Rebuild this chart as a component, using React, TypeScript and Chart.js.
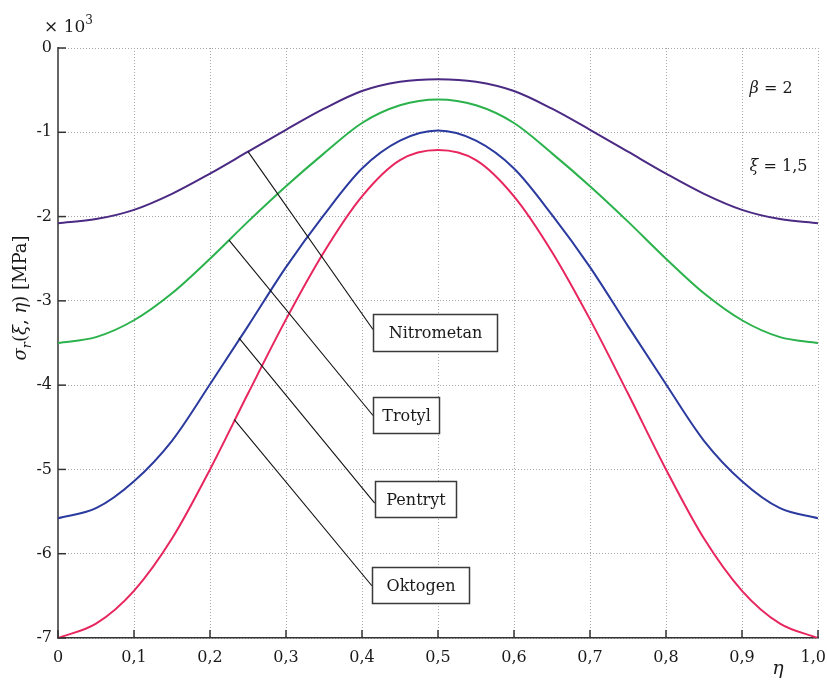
import React, { useEffect, useRef } from "react";
import { Chart, registerables } from "chart.js";

Chart.register(...registerables);

// ---------------- data ----------------
const ETA = [0, 0.05, 0.1, 0.15, 0.2, 0.25, 0.3, 0.35, 0.4, 0.45, 0.5, 0.55, 0.6, 0.65, 0.7, 0.75, 0.8, 0.85, 0.9, 0.95, 1.0];

const NITROMETAN = [-2.08, -2.03, -1.92, -1.73, -1.49, -1.23, -0.97, -0.72, -0.51, -0.40, -0.37, -0.40, -0.51, -0.72, -0.97, -1.23, -1.49, -1.73, -1.92, -2.03, -2.08];
const TROTYL = [-3.50, -3.43, -3.23, -2.91, -2.50, -2.06, -1.64, -1.25, -0.89, -0.68, -0.61, -0.68, -0.89, -1.25, -1.64, -2.06, -2.50, -2.91, -3.23, -3.43, -3.50];
const PENTRYT = [-5.58, -5.46, -5.14, -4.66, -3.99, -3.30, -2.60, -1.98, -1.43, -1.10, -0.98, -1.10, -1.43, -1.98, -2.60, -3.30, -3.99, -4.66, -5.14, -5.46, -5.58];
const OKTOGEN = [-7.00, -6.83, -6.44, -5.82, -5.00, -4.10, -3.22, -2.42, -1.76, -1.33, -1.21, -1.33, -1.76, -2.42, -3.22, -4.10, -5.00, -5.82, -6.44, -6.83, -7.00];

const SERIES_NAMES = ["Nitrometan", "Trotyl", "Pentryt", "Oktogen"];
const SERIES_VALUES = [NITROMETAN, TROTYL, PENTRYT, OKTOGEN];
const SERIES_COLORS = ["#4b2a84", "#2bb24c", "#2b3a9e", "#e8265e"];

const X_TICKS = [0, 0.1, 0.2, 0.3, 0.4, 0.5, 0.6, 0.7, 0.8, 0.9, 1.0];
const X_TICK_LABELS = ["0", "0,1", "0,2", "0,3", "0,4", "0,5", "0,6", "0,7", "0,8", "0,9", "1,0"];
const Y_TICKS = [-7, -6, -5, -4, -3, -2, -1, 0];
const Y_TICK_LABELS = ["-7", "-6", "-5", "-4", "-3", "-2", "-1", "0"];

// label boxes with leader lines (data coordinates)
const LEADER_FROM = [[0.25, -1.23], [0.225, -2.28], [0.238, -3.44], [0.232, -4.41]];
const LEADER_TO = [[0.4145, -3.34], [0.4145, -4.36], [0.4167, -5.40], [0.413, -6.38]];
const BOX_TOP_LEFT = [[0.4145, -3.158], [0.4145, -4.136], [0.4167, -5.137], [0.413, -6.161]];
const BOX_BOTTOM_RIGHT = [[0.5776, -3.59], [0.5013, -4.563], [0.5242, -5.567], [0.5408, -6.581]];

const FONT = '"DejaVu Serif", "Liberation Serif", serif';

type Seg = { t: string; it?: boolean; sub?: boolean; sup?: boolean };

function drawRich(ctx: CanvasRenderingContext2D, segs: Seg[], x: number, y: number, size: number, align: "left" | "center") {
  const fontFor = (s: Seg) => `${s.it ? "italic " : ""}${s.sub || s.sup ? Math.round(size * 0.72) : size}px ${FONT}`;
  let total = 0;
  const widths = segs.map((s) => {
    ctx.font = fontFor(s);
    const w = ctx.measureText(s.t).width;
    total += w;
    return w;
  });
  let cx = align === "center" ? x - total / 2 : x;
  ctx.textAlign = "left";
  ctx.textBaseline = "alphabetic";
  segs.forEach((s, i) => {
    ctx.font = fontFor(s);
    const dy = s.sub ? size * 0.3 : s.sup ? -size * 0.45 : 0;
    ctx.fillText(s.t, cx, y + dy);
    cx += widths[i];
  });
}

const decorPlugin = {
  id: "decor",
  afterDatasetsDraw(chart: any) {
    const { ctx } = chart;
    const xs = chart.scales.x;
    const ys = chart.scales.y;
    ctx.save();
    // leader lines
    ctx.strokeStyle = "#111";
    ctx.lineWidth = 1.1;
    SERIES_NAMES.forEach((_, i) => {
      ctx.beginPath();
      ctx.moveTo(xs.getPixelForValue(LEADER_FROM[i][0]), ys.getPixelForValue(LEADER_FROM[i][1]));
      ctx.lineTo(xs.getPixelForValue(LEADER_TO[i][0]), ys.getPixelForValue(LEADER_TO[i][1]));
      ctx.stroke();
    });
    // boxes
    SERIES_NAMES.forEach((name, i) => {
      const x1 = Math.round(xs.getPixelForValue(BOX_TOP_LEFT[i][0])) + 0.5;
      const y1 = Math.round(ys.getPixelForValue(BOX_TOP_LEFT[i][1])) + 0.5;
      const x2 = Math.round(xs.getPixelForValue(BOX_BOTTOM_RIGHT[i][0])) + 0.5;
      const y2 = Math.round(ys.getPixelForValue(BOX_BOTTOM_RIGHT[i][1])) + 0.5;
      ctx.fillStyle = "#ffffff";
      ctx.fillRect(x1, y1, x2 - x1, y2 - y1);
      ctx.strokeStyle = "#3a3a3a";
      ctx.lineWidth = 1.5;
      ctx.strokeRect(x1, y1, x2 - x1, y2 - y1);
      ctx.fillStyle = "#1a1a1a";
      ctx.font = `16px ${FONT}`;
      ctx.textAlign = "center";
      ctx.textBaseline = "middle";
      ctx.fillText(name, (x1 + x2) / 2, (y1 + y2) / 2 + 1);
    });
    ctx.restore();
  },
  afterDraw(chart: any) {
    const { ctx, chartArea } = chart;
    const xs = chart.scales.x;
    const ys = chart.scales.y;
    ctx.save();
    // inward ticks
    ctx.strokeStyle = "#333";
    ctx.lineWidth = 1.5;
    X_TICKS.forEach((v) => {
      const px = xs.getPixelForValue(v);
      ctx.beginPath();
      ctx.moveTo(px, chartArea.bottom);
      ctx.lineTo(px, chartArea.bottom - 8);
      ctx.stroke();
    });
    Y_TICKS.forEach((v) => {
      const py = ys.getPixelForValue(v);
      ctx.beginPath();
      ctx.moveTo(chartArea.left, py);
      ctx.lineTo(chartArea.left + 8, py);
      ctx.stroke();
    });
    ctx.fillStyle = "#1a1a1a";
    // x tick labels (kept inside the canvas)
    ctx.font = `16px ${FONT}`;
    ctx.textAlign = "left";
    ctx.textBaseline = "alphabetic";
    X_TICKS.forEach((v, i) => {
      const label = X_TICK_LABELS[i];
      const w = ctx.measureText(label).width;
      let left = xs.getPixelForValue(v) - w / 2;
      if (left + w > 826) left = 826 - w;
      ctx.fillText(label, left, 662);
    });
    // × 10^3
    drawRich(ctx, [{ t: "× 10" }, { t: "3", sup: true }], 44, 32, 17, "left");
    // annotations
    drawRich(ctx, [{ t: "β", it: true }, { t: " = 2" }], xs.getPixelForValue(0.91), ys.getPixelForValue(-0.53), 16, "left");
    drawRich(ctx, [{ t: "ξ", it: true }, { t: " = 1,5" }], xs.getPixelForValue(0.91), ys.getPixelForValue(-1.465), 16, "left");
    // x axis title
    drawRich(ctx, [{ t: "η", it: true }], 778, 674, 19, "center");
    // y axis title
    ctx.translate(26, 298);
    ctx.rotate(-Math.PI / 2);
    drawRich(
      ctx,
      [
        { t: "σ", it: true },
        { t: "r", it: true, sub: true },
        { t: "(" },
        { t: "ξ", it: true },
        { t: ", " },
        { t: "η", it: true },
        { t: ") [MPa]" },
      ],
      0,
      0,
      18,
      "center"
    );
    ctx.restore();
  },
};

export default function App() {
  const ref = useRef<HTMLCanvasElement | null>(null);

  useEffect(() => {
    document.body.style.margin = "0";
    const canvas = ref.current;
    if (!canvas) return;
    const datasets = SERIES_NAMES.map((name, i) => ({
      label: name,
      data: ETA.map((x, j) => ({ x, y: SERIES_VALUES[i][j] })),
      borderColor: SERIES_COLORS[i],
      backgroundColor: SERIES_COLORS[i],
      borderWidth: 2,
      pointRadius: 0,
      cubicInterpolationMode: "monotone" as const,
      fill: false,
    }));

    const chart = new Chart(canvas, {
      type: "line",
      data: { datasets },
      options: {
        animation: false,
        responsive: false,
        devicePixelRatio: 1,
        layout: { padding: { top: 48, right: 9, left: 0, bottom: 0 } },
        plugins: {
          legend: { display: false },
          tooltip: { enabled: false },
        },
        scales: {
          x: {
            type: "linear",
            min: 0,
            max: 1,
            afterBuildTicks: (s: any) => {
              s.ticks = X_TICKS.map((v) => ({ value: v }));
            },
            afterFit: (s: any) => {
              s.height = 42;
              s.paddingLeft = 0;
              s.paddingRight = 0;
            },
            ticks: { display: false },
            grid: { color: "#a8a8a8", lineWidth: 1, drawTicks: false },
            border: { display: true, color: "#333", width: 1.5, dash: [1, 2] },
          },
          y: {
            type: "linear",
            min: -7,
            max: 0,
            afterBuildTicks: (s: any) => {
              s.ticks = Y_TICKS.map((v) => ({ value: v }));
            },
            afterFit: (s: any) => {
              s.width = 58;
              s.paddingTop = 0;
              s.paddingBottom = 0;
            },
            ticks: {
              callback: (_v: any, i: number) => Y_TICK_LABELS[i],
              font: { family: FONT, size: 16 },
              color: "#1a1a1a",
              padding: 6,
              autoSkip: false,
            },
            grid: { color: "#a8a8a8", lineWidth: 1, drawTicks: false },
            border: { display: true, color: "#666", width: 2, dash: [1, 2] },
          },
        },
      },
      plugins: [decorPlugin],
    });
    return () => chart.destroy();
  }, []);

  return <canvas ref={ref} width={827} height={680} style={{ display: "block" }} />;
}
